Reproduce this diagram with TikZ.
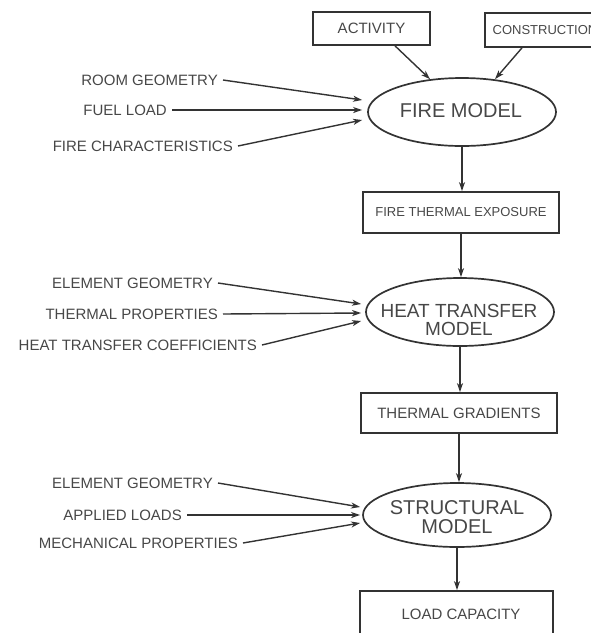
\documentclass[tikz,border=0pt]{standalone}
\usepackage{fontspec}
\setmainfont{Liberation Sans}
\usetikzlibrary{arrows.meta,shapes.geometric}
\definecolor{ink}{HTML}{333333}
\definecolor{txt}{HTML}{474747}
\begin{document}
\begin{tikzpicture}[x=1pt,y=-1pt,
  arr/.style={draw=ink, line width=1.4pt, -{Stealth[length=9pt,width=6pt,inset=2.5pt]}},
  lbl/.style={anchor=east, text=txt, font=\fontsize{15}{18}\selectfont, inner xsep=5pt, inner ysep=0pt, text height=10.7pt, text depth=0pt},
  boxn/.style={draw=ink, line width=1.7pt, inner sep=0pt, text=txt},
  ell/.style={draw=ink, line width=1.7pt, ellipse, inner sep=0pt},
  etext/.style={text=txt, align=center, inner sep=0pt, font=\fontsize{20}{19}\selectfont, text height=33.3pt, text depth=0pt},
]
\useasboundingbox (0,0) rectangle (591,633);
\clip (0,0) rectangle (591,633);

% top inputs
\node[boxn, minimum width=117pt, minimum height=33pt, font=\fontsize{15}{18}\selectfont] (act) at (371.5,28.5) {ACTIVITY};
\node[boxn, minimum width=120pt, minimum height=34pt, font=\fontsize{13}{16}\selectfont] (con) at (545,30) {CONSTRUCTION};

% fire model
\node[ell, minimum width=188pt, minimum height=68pt] (fm) at (462,112) {};
\node[etext, text height=14.3pt] (fmt) at (461,110) {FIRE MODEL};

\node[lbl] (rg) at (223,80) {ROOM GEOMETRY};
\node[lbl] (fl) at (172,110) {FUEL LOAD};
\node[lbl] (fc) at (238,146) {FIRE CHARACTERISTICS};

\draw[arr] ([xshift=23.5pt]act.south) -- ([xshift=-32pt,yshift=-2pt]fm.north);
\draw[arr] ([xshift=-23pt]con.south) -- ([xshift=33pt,yshift=-2pt]fm.north);
\draw[arr] (rg.east) -- ([xshift=-5pt,yshift=12pt]fm.west);
\draw[arr] (fl.east) -- ([xshift=-5pt,yshift=2pt]fm.west);
\draw[arr] (fc.east) -- ([xshift=-5pt,yshift=-8pt]fm.west);

% fire thermal exposure
\node[boxn, minimum width=196pt, minimum height=41pt, font=\fontsize{13}{16}\selectfont] (fte) at (461,212.5) {FIRE THERMAL EXPOSURE};
\draw[arr] (fm.south) -- (fm.south |- fte.north);

% heat transfer model
\node[ell, minimum width=188pt, minimum height=68pt] (ht) at (460,312) {};
\node[etext, font=\fontsize{19}{18.5}\selectfont, text height=32.1pt] (htt) at (459,319.5) {HEAT TRANSFER\\MODEL};
\draw[arr] (fte.south) -- (fte.south |- ht.north);

\node[lbl] (eg1) at (218,283) {ELEMENT GEOMETRY};
\node[lbl] (tp) at (223,314) {THERMAL PROPERTIES};
\node[lbl] (htc) at (262,345) {HEAT TRANSFER COEFFICIENTS};
\draw[arr] (eg1.east) -- ([xshift=-4pt,yshift=8pt]ht.west);
\draw[arr] (tp.east) -- ([xshift=-4pt,yshift=-1pt]ht.west);
\draw[arr] (htc.east) -- ([xshift=-4pt,yshift=-9pt]ht.west);

% thermal gradients
\node[boxn, minimum width=196pt, minimum height=40pt, font=\fontsize{15}{18}\selectfont] (tg) at (459,413) {THERMAL GRADIENTS};
\draw[arr] (ht.south) -- (ht.south |- tg.north);

% structural model
\node[ell, minimum width=188pt, minimum height=64pt] (sm) at (457,515) {};
\node[etext] (smt) at (457,516.5) {STRUCTURAL\\MODEL};
\draw[arr] (tg.south) -- (tg.south |- sm.north);

\node[lbl] (eg2) at (218,483) {ELEMENT GEOMETRY};
\node[lbl] (al) at (187,515) {APPLIED LOADS};
\node[lbl] (mp) at (243,543) {MECHANICAL PROPERTIES};
\draw[arr] (eg2.east) -- ([xshift=-2pt,yshift=8pt]sm.west);
\draw[arr] (al.east) -- ([xshift=-2pt]sm.west);
\draw[arr] (mp.east) -- ([xshift=-2pt,yshift=-8pt]sm.west);

% load capacity
\node[boxn, minimum width=193pt, minimum height=60pt] (lc) at (456.5,621) {};
\node[text=txt, inner sep=0pt, font=\fontsize{15}{18}\selectfont] (lct) at (461,614) {LOAD CAPACITY};
\draw[arr] (sm.south) -- (sm.south |- lc.north);
\end{tikzpicture}
\end{document}
